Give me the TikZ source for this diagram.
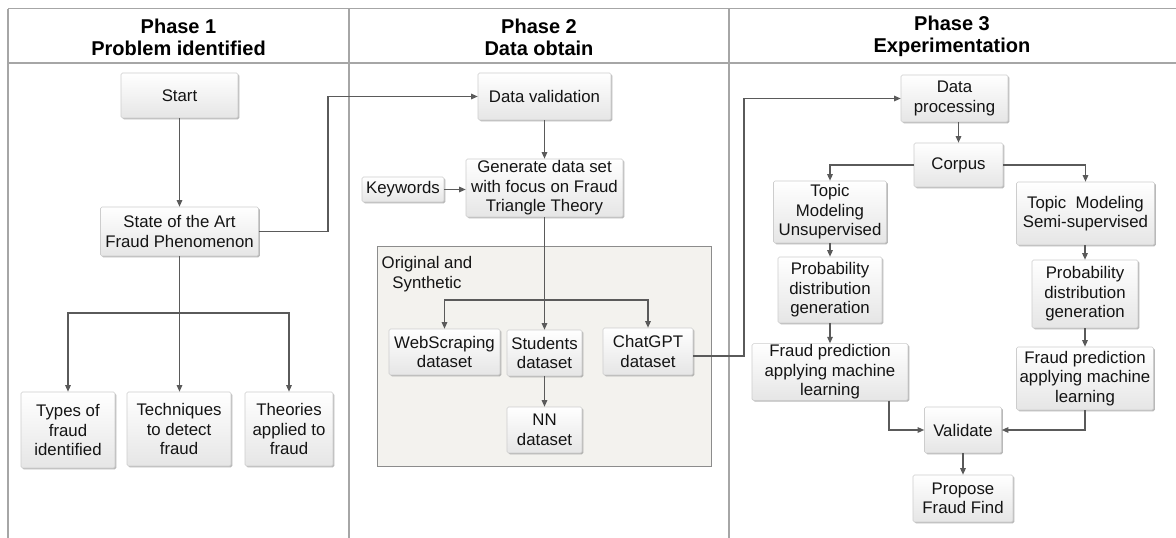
\documentclass[tikz,border=0pt]{standalone}
\usepackage{fontspec}
\setmainfont{Liberation Sans}
\usetikzlibrary{arrows.meta,shadows}
\definecolor{framec}{HTML}{A6A6A6}
\definecolor{conn}{HTML}{5A5A5A}
\definecolor{boxline}{HTML}{CDCDCD}
\definecolor{grpfill}{HTML}{F3F2EE}
\definecolor{grpline}{HTML}{8C8C8C}
\definecolor{txt}{HTML}{141414}
\begin{document}
\begin{tikzpicture}[x=1pt,y=-1pt,
  framel/.style={draw=framec,line width=1.3pt},
  hdr/.style={font=\fontsize{20}{22}\selectfont\bfseries,align=center,inner sep=0pt},
  bx/.style={draw=boxline,line width=0.6pt,rounded corners=1.5pt,top color=white,bottom color=black!10,
    drop shadow={shadow xshift=1.3pt,shadow yshift=-1.3pt,fill=black!55,opacity=0.5},
    font=\fontsize{16.8}{19.5}\selectfont,text=txt,align=center,inner sep=1pt},
  arr/.style={draw=conn,line width=1.2pt,-{Triangle[length=6.5pt,width=5.5pt]}},
  ln/.style={draw=conn,line width=1.2pt}]
\useasboundingbox (0,0) rectangle (1176,538);
% frame
\draw[framel] (8,8.5) -- (1176,8.5);
\draw[framel] (8,63) -- (1176,63);
\draw[framel] (8,8.5) -- (8,538);
\draw[framel] (349,8.5) -- (349,538);
\draw[framel] (729,8.5) -- (729,538);
% headers
\node[hdr] (h1) at (178.5,37.5) {Phase 1\\Problem identified};
\node[hdr] (h2) at (539,37.5) {Phase 2\\Data obtain};
\node[hdr] (h3) at (952,36.5) {Phase 3\\Experimentation};
% group container
\node[draw=grpline,fill=grpfill,line width=0.8pt,minimum width=334pt,minimum height=220pt,inner sep=0pt,
  drop shadow={shadow xshift=1.2pt,shadow yshift=-1.2pt,fill=black!50,opacity=0.4}] (grp) at (544,356) {};
\node[font=\fontsize{16.8}{19.5}\selectfont,text=txt,align=center,inner sep=0pt] (grpl) at (427,274) {Original and\\Synthetic};
% phase 1
\node[bx,minimum width=117pt,minimum height=45pt] (start) at (179.5,95.5) {Start};
\node[bx,minimum width=158pt,minimum height=49pt] (state) at (179.5,231.5) {State of the Art\\Fraud Phenomenon};
\node[bx,minimum width=94pt,minimum height=76pt] (types) at (68,430) {Types of\\fraud\\identified};
\node[bx,minimum width=104pt,minimum height=74pt] (tech) at (179,429) {Techniques\\to detect\\fraud};
\node[bx,minimum width=88pt,minimum height=74pt] (theo) at (289,429) {Theories\\applied to\\fraud};
% phase 2
\node[bx,minimum width=133pt,minimum height=47pt] (dval) at (544.5,96.5) {Data validation};
\node[bx,minimum width=157pt,minimum height=58pt] (gen) at (544.5,188) {Generate data set\\with focus on Fraud\\Triangle Theory};
\node[bx,minimum width=82pt,minimum height=25pt] (kw) at (403,189.5) {Keywords};
\node[bx,minimum width=111pt,minimum height=46pt] (web) at (444.5,352) {WebScraping\\dataset};
\node[bx,minimum width=75pt,minimum height=46pt] (stud) at (544.5,353) {Students\\dataset};
\node[bx,minimum width=90pt,minimum height=47pt] (chat) at (648,351.5) {ChatGPT\\dataset};
\node[bx,minimum width=75pt,minimum height=46pt] (nn) at (544.5,430) {NN\\dataset};
% phase 3
\node[bx,minimum width=107pt,minimum height=47pt] (dp) at (954.5,98.5) {Data\\processing};
\node[bx,minimum width=89pt,minimum height=44pt] (corpus) at (958.5,165) {Corpus};
\node[bx,minimum width=113pt,minimum height=62pt] (tmu) at (830,212) {Topic\\Modeling\\Unsupervised};
\node[bx,minimum width=138pt,minimum height=63pt] (tms) at (1085.5,213.5) {Topic\ \ Modeling\\Semi-supervised};
\node[bx,minimum width=104pt,minimum height=66pt] (pdu) at (830,290) {Probability\\distribution\\generation};
\node[bx,minimum width=106pt,minimum height=68pt] (pds) at (1085,294) {Probability\\distribution\\generation};
\node[bx,minimum width=156pt,minimum height=54pt] (fpu) at (830,372) {Fraud prediction\\applying machine\\learning};
\node[bx,minimum width=137pt,minimum height=63pt] (fps) at (1085,378.5) {Fraud prediction\\applying machine\\learning};
\node[bx,minimum width=77pt,minimum height=46pt] (val) at (963,430) {Validate};
\node[bx,minimum width=100pt,minimum height=47pt] (prop) at (963,498.5) {Propose\\Fraud Find};
% connectors phase 1
\draw[arr] (start) -- (state);
\coordinate (s1) at (328,231.5);
\draw[arr] (state.east) -- (s1) |- (dval.west);
\coordinate (b1) at (179.5,313);
\draw[ln] (state.south) -- (b1);
\draw[arr] (b1) -- (b1 |- tech.north);
\draw[arr] (b1) -| (types.north);
\draw[arr] (b1) -| (theo.north);
% connectors phase 2
\draw[arr] (dval) -- (gen);
\draw[arr] (kw.east) -- (kw.east -| gen.west);
\coordinate (b2) at (544.5,300);
\draw[ln] (gen.south) -- (b2);
\draw[arr] (b2) -- (stud.north);
\draw[arr] (b2) -| (web.north);
\draw[arr] (b2) -| (chat.north);
\draw[arr] (stud) -- (nn);
\coordinate (c1) at (744,356);
\draw[arr] (chat.east |- c1) -- (c1) |- (dp.west);
% connectors phase 3
\draw[arr] (corpus.north |- dp.south) -- (corpus.north);
\draw[arr] (corpus.west) -| (tmu.north);
\draw[arr] (corpus.east) -| (tms.north);
\draw[arr] (tmu) -- (pdu);
\draw[arr] (pdu) -- (fpu);
\draw[arr] (tms.south -| pds.north) -- (pds.north);
\draw[arr] (pds) -- (fps);
\coordinate (c2) at (889,0);
\draw[arr] (fpu.south -| c2) |- (val.west);
\draw[arr] (fps.south) |- (val.east);
\draw[arr] (val) -- (prop);
\end{tikzpicture}
\end{document}
